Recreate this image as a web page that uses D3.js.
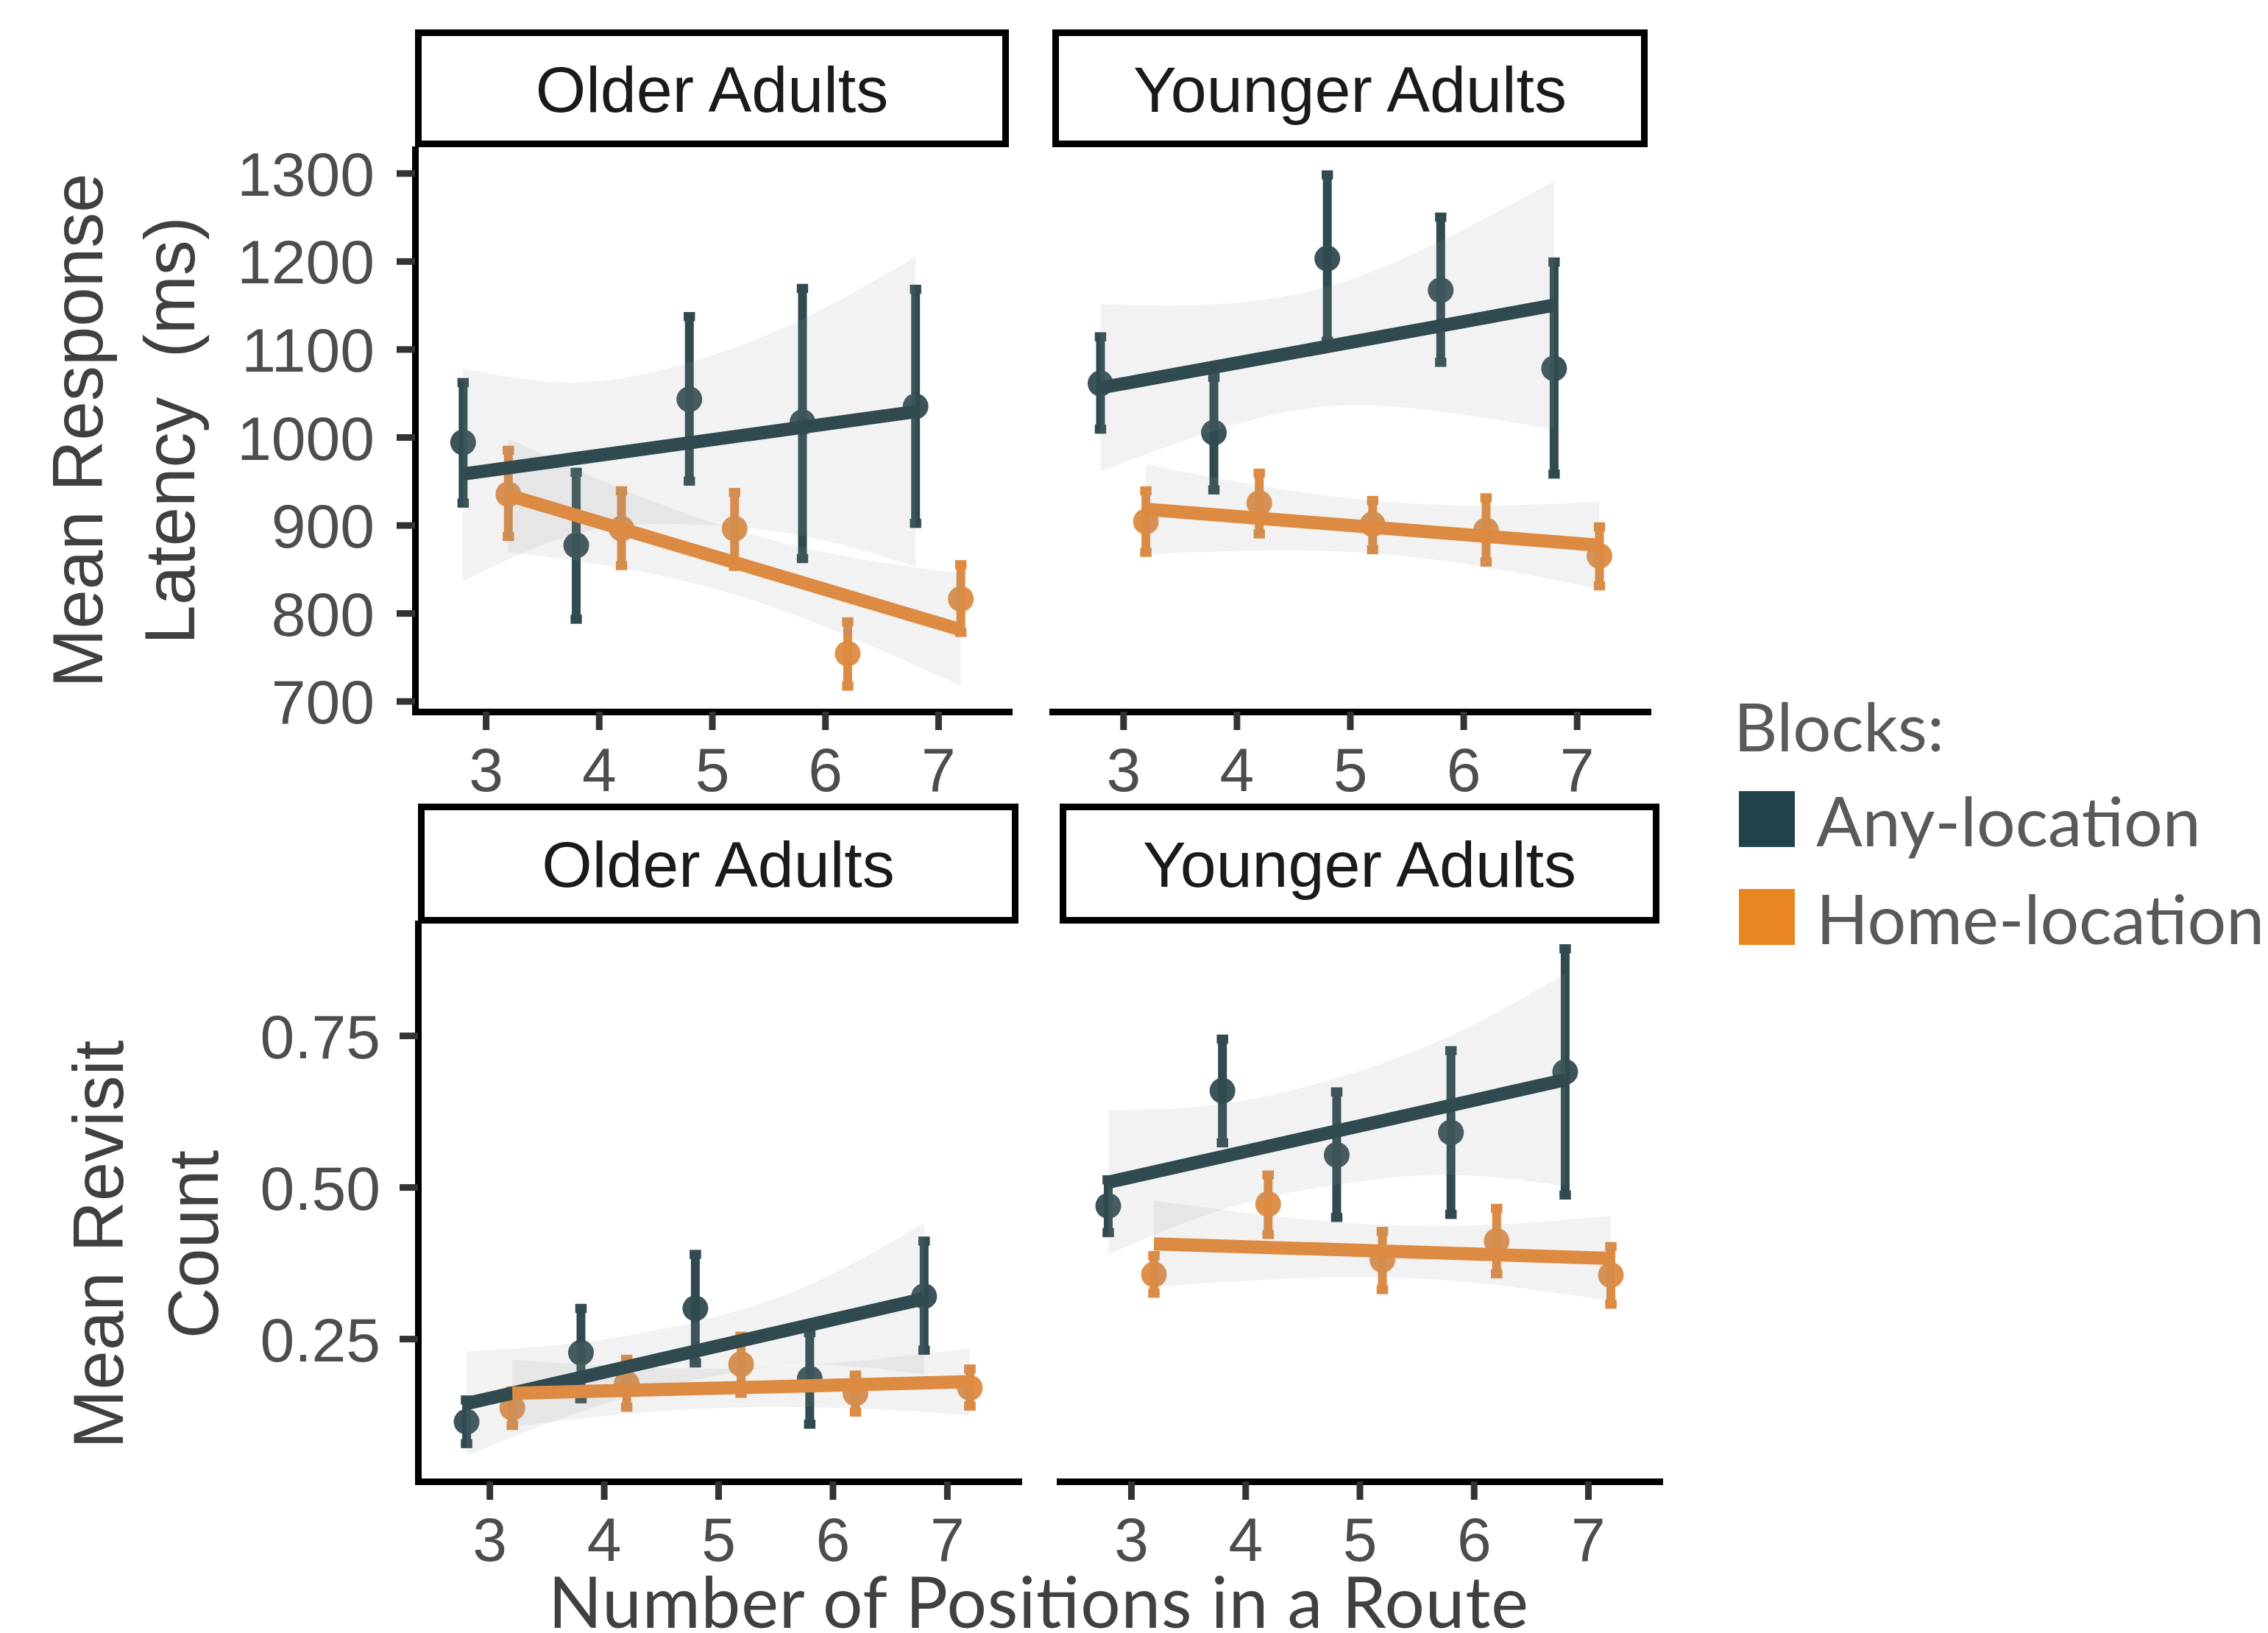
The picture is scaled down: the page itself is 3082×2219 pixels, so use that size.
<!DOCTYPE html>
<html>
<head>
<meta charset="utf-8">
<script src="https://cdn.jsdelivr.net/npm/d3@7"></script>
<style>
  body { margin: 0; background: #ffffff; }
  text.pre { white-space: pre; }
</style>
</head>
<body>
<svg id="chart" width="3082" height="2219"></svg>
<script>
// ---------------- DATA ----------------
const positions = [3, 4, 5, 6, 7];
const blocks = ["Any-location", "Home-location"];
const groups = ["Older Adults", "Younger Adults"];
const latencyTicks = [700, 800, 900, 1000, 1100, 1200, 1300];
const latencyTickLabels = ["700", "800", "900", "1000", "1100", "1200", "1300"];
const revisitTicks = [0.25, 0.50, 0.75];
const revisitTickLabels = ["0.25", "0.50", "0.75"];
const xTitle = "Number of Positions in a Route";
const latencyTitle = ["Mean Response", "Latency  (ms)"];
const revisitTitle = ["Mean Revisit", "Count"];
const legendTitle = "Blocks:";

// Mean Response Latency (ms) - Older Adults
const latOldAnyMean   = [994, 877, 1043, 1017, 1035];
const latOldAnyLo     = [925, 793, 950, 862, 902];
const latOldAnyHi     = [1062, 960, 1137, 1169, 1168];
const latOldAnyFit    = [958, 1029];
const latOldAnyBandHi = [1078, 1062, 1085, 1134, 1205];
const latOldAnyBandLo = [836, 890, 901, 888, 853];

const latOldHomeMean   = [935, 896, 896, 754, 816];
const latOldHomeLo     = [887, 854, 853, 717, 778];
const latOldHomeHi     = [985, 939, 937, 790, 855];
const latOldHomeFit    = [934, 781];
const latOldHomeBandHi = [998, 941, 895, 864, 845];
const latOldHomeBandLo = [870, 851, 821, 774, 717];

// Mean Response Latency (ms) - Younger Adults
const latYoungAnyMean   = [1061, 1005, 1203, 1167, 1078];
const latYoungAnyLo     = [1009, 940, 1109, 1085, 958];
const latYoungAnyHi     = [1114, 1068, 1298, 1250, 1199];
const latYoungAnyFit    = [1056, 1150];
const latYoungAnyBandHi = [1151, 1151, 1171, 1223, 1291];
const latYoungAnyBandLo = [961, 1007, 1035, 1029, 1009];

const latYoungHomeMean   = [904, 925, 901, 894, 865];
const latYoungHomeLo     = [869, 890, 872, 858, 831];
const latYoungHomeHi     = [939, 959, 928, 931, 898];
const latYoungHomeFit    = [918, 877];
const latYoungHomeBandHi = [969, 945, 928, 922, 927];
const latYoungHomeBandLo = [867, 871, 868, 852, 827];

// Mean Revisit Count - Older Adults
const revOldAnyMean   = [0.113, 0.227, 0.300, 0.184, 0.320];
const revOldAnyLo     = [0.077, 0.151, 0.210, 0.109, 0.231];
const revOldAnyHi     = [0.149, 0.300, 0.389, 0.260, 0.411];
const revOldAnyFit    = [0.143, 0.316];
const revOldAnyBandHi = [0.229, 0.244, 0.278, 0.339, 0.441];
const revOldAnyBandLo = [0.057, 0.130, 0.182, 0.207, 0.191];

const revOldHomeMean   = [0.136, 0.176, 0.208, 0.160, 0.169];
const revOldHomeLo     = [0.107, 0.137, 0.160, 0.129, 0.139];
const revOldHomeHi     = [0.164, 0.216, 0.254, 0.190, 0.200];
const revOldHomeFit    = [0.160, 0.179];
const revOldHomeBandHi = [0.215, 0.204, 0.201, 0.213, 0.234];
const revOldHomeBandLo = [0.105, 0.126, 0.137, 0.135, 0.124];

// Mean Revisit Count - Younger Adults
const revYoungAnyMean   = [0.469, 0.659, 0.553, 0.590, 0.690];
const revYoungAnyLo     = [0.425, 0.573, 0.450, 0.455, 0.487];
const revYoungAnyHi     = [0.512, 0.744, 0.657, 0.725, 0.893];
const revYoungAnyFit    = [0.508, 0.677];
const revYoungAnyBandHi = [0.627, 0.637, 0.680, 0.750, 0.852];
const revYoungAnyBandLo = [0.389, 0.463, 0.504, 0.520, 0.502];

const revYoungHomeMean   = [0.356, 0.472, 0.380, 0.411, 0.355];
const revYoungHomeLo     = [0.325, 0.422, 0.331, 0.357, 0.307];
const revYoungHomeHi     = [0.387, 0.520, 0.427, 0.465, 0.402];
const revYoungHomeFit    = [0.4065, 0.3825];
const revYoungHomeBandHi = [0.4775, 0.4535, 0.4375, 0.4385, 0.4525];
const revYoungHomeBandLo = [0.3355, 0.3475, 0.3515, 0.3385, 0.3125];

// ---------------- TABLE BUILT FROM ARRAYS ----------------
function S(mean, lo, hi, fit, bandLo, bandHi) { return { mean, lo, hi, fit, bandLo, bandHi }; }
const series = {
  latency: {
    "Older Adults": {
      "Any-location": S(latOldAnyMean, latOldAnyLo, latOldAnyHi, latOldAnyFit, latOldAnyBandLo, latOldAnyBandHi),
      "Home-location": S(latOldHomeMean, latOldHomeLo, latOldHomeHi, latOldHomeFit, latOldHomeBandLo, latOldHomeBandHi)
    },
    "Younger Adults": {
      "Any-location": S(latYoungAnyMean, latYoungAnyLo, latYoungAnyHi, latYoungAnyFit, latYoungAnyBandLo, latYoungAnyBandHi),
      "Home-location": S(latYoungHomeMean, latYoungHomeLo, latYoungHomeHi, latYoungHomeFit, latYoungHomeBandLo, latYoungHomeBandHi)
    }
  },
  revisit: {
    "Older Adults": {
      "Any-location": S(revOldAnyMean, revOldAnyLo, revOldAnyHi, revOldAnyFit, revOldAnyBandLo, revOldAnyBandHi),
      "Home-location": S(revOldHomeMean, revOldHomeLo, revOldHomeHi, revOldHomeFit, revOldHomeBandLo, revOldHomeBandHi)
    },
    "Younger Adults": {
      "Any-location": S(revYoungAnyMean, revYoungAnyLo, revYoungAnyHi, revYoungAnyFit, revYoungAnyBandLo, revYoungAnyBandHi),
      "Home-location": S(revYoungHomeMean, revYoungHomeLo, revYoungHomeHi, revYoungHomeFit, revYoungHomeBandLo, revYoungHomeBandHi)
    }
  }
};

// ---------------- STYLE / LAYOUT ----------------
const geomColor = { "Any-location": "#304A50", "Home-location": "#DD8B42" };
const legendColor = { "Any-location": "#22434C", "Home-location": "#E8861F" };
const dodge = { "Any-location": -0.2, "Home-location": 0.2 };
const capHalf = 0.05;
const xDomain = [2.375, 7.625];

const rows = [
  { measure: "latency", stripTop: 40, stripBottom: 200, top: 203, bottom: 967,
    cols: [[564, 1371], [1430, 2239]], yDomain: [688, 1327],
    ticks: latencyTicks, tickLabels: latencyTickLabels, labelX: 509,
    title: latencyTitle, titleX: [139, 263.5], titleY: 585 },
  { measure: "revisit", stripTop: 1092, stripBottom: 1255, top: 1255, bottom: 2013,
    cols: [[568, 1384], [1440, 2255]], yDomain: [0.0147, 0.9346],
    ticks: revisitTicks, tickLabels: revisitTickLabels, labelX: 517,
    title: revisitTitle, titleX: [166.5, 296], titleY: 1691 }
];

const svg = d3.select("#chart");
svg.append("rect").attr("width", 3082).attr("height", 2219).attr("fill", "#ffffff");

const tickFont = "'Liberation Sans', Arial, sans-serif";
const titleFont = "Lato, 'Open Sans', sans-serif";

rows.forEach(row => {
  groups.forEach((grp, gi) => {
    const [c0, c1] = row.cols[gi];
    const x = d3.scaleLinear().domain(xDomain).range([c0, c1]);
    const y = d3.scaleLinear().domain(row.yDomain).range([row.bottom, row.top]);
    const g = svg.append("g");

    // strip
    g.append("rect")
      .attr("x", c0 + 4.5).attr("y", row.stripTop + 4.5)
      .attr("width", c1 - c0 - 9).attr("height", row.stripBottom - row.stripTop - 9)
      .attr("fill", "#ffffff").attr("stroke", "#000000").attr("stroke-width", 9);
    g.append("text")
      .attr("x", (c0 + c1) / 2)
      .attr("y", (row.stripTop + row.stripBottom) / 2 + 31.5)
      .attr("text-anchor", "middle")
      .attr("font-family", tickFont).attr("font-size", 88)
      .attr("fill", "#1A1A1A")
      .text(grp);

    // error bars and points
    blocks.forEach(b => {
      const s = series[row.measure][grp][b];
      const off = dodge[b];
      const col = geomColor[b];
      positions.forEach((p, i) => {
        const xc = x(p + off);
        g.append("line")
          .attr("x1", xc).attr("x2", xc)
          .attr("y1", y(s.lo[i])).attr("y2", y(s.hi[i]))
          .attr("stroke", col).attr("stroke-width", 12);
        [s.lo[i], s.hi[i]].forEach(v => {
          g.append("line")
            .attr("x1", x(p + off - capHalf)).attr("x2", x(p + off + capHalf))
            .attr("y1", y(v)).attr("y2", y(v))
            .attr("stroke", col).attr("stroke-width", 12.4);
        });
      });
      g.selectAll(null).data(positions).enter().append("circle")
        .attr("cx", p => x(p + off))
        .attr("cy", (p, i) => y(s.mean[i]))
        .attr("r", 17.5)
        .attr("fill", col).attr("fill-opacity", 0.95);
    });

    // confidence ribbons
    blocks.forEach(b => {
      const s = series[row.measure][grp][b];
      const off = dodge[b];
      const area = d3.area()
        .x(p => x(p + off))
        .y0((p, i) => y(s.bandLo[i]))
        .y1((p, i) => y(s.bandHi[i]))
        .curve(d3.curveNatural);
      g.append("path").datum(positions)
        .attr("d", area)
        .attr("fill", "#999999").attr("fill-opacity", 0.13);
    });

    // fit lines
    blocks.forEach(b => {
      const s = series[row.measure][grp][b];
      const off = dodge[b];
      const ends = [positions[0] + off, positions[positions.length - 1] + off];
      g.append("path")
        .datum(ends)
        .attr("d", d3.line().x(d => x(d)).y((d, i) => y(s.fit[i])))
        .attr("fill", "none")
        .attr("stroke", geomColor[b]).attr("stroke-width", 18);
    });

    // x axis
    const xa = g.append("g")
      .attr("transform", `translate(0,${row.bottom})`)
      .call(d3.axisBottom(x).tickValues(positions).tickFormat(d3.format("d")).tickSize(25).tickSizeOuter(0));
    xa.attr("font-family", tickFont).attr("font-size", 84);
    xa.select(".domain").attr("stroke", "#000000").attr("stroke-width", 9).attr("stroke-linecap", "square");
    xa.selectAll(".tick line").attr("stroke", "#333333").attr("stroke-width", 9);
    xa.selectAll(".tick text").attr("y", 108).attr("dy", null).attr("fill", "#4D4D4D");

    // y axis on the first column only
    if (gi === 0) {
      const ya = g.append("g")
        .attr("transform", `translate(${c0},0)`)
        .call(d3.axisLeft(y).tickValues(row.ticks)
          .tickFormat((d, i) => row.tickLabels[i]).tickSize(25).tickSizeOuter(0));
      ya.attr("font-family", tickFont).attr("font-size", 84);
      ya.select(".domain").attr("stroke", "#000000").attr("stroke-width", 9).attr("stroke-linecap", "square");
      ya.selectAll(".tick line").attr("stroke", "#333333").attr("stroke-width", 9);
      ya.selectAll(".tick text").attr("x", row.labelX - c0).attr("dy", "0.358em").attr("fill", "#4D4D4D");
    }
  });

  // y axis title (two lines)
  row.title.forEach((t, k) => {
    svg.append("text")
      .attr("class", "pre")
      .attr("transform", `translate(${row.titleX[k]},${row.titleY}) rotate(-90)`)
      .attr("text-anchor", "middle")
      .attr("font-family", tickFont).attr("font-size", 96)
      .attr("fill", "#404040")
      .text(t);
  });
});

// x axis title
svg.append("text")
  .attr("x", 1411).attr("y", 2212)
  .attr("text-anchor", "middle")
  .attr("font-family", titleFont).attr("font-size", 96)
  .attr("textLength", 1332).attr("lengthAdjust", "spacing")
  .attr("fill", "#404040")
  .text(xTitle);

// legend
const lg = svg.append("g");
lg.append("text")
  .attr("x", 2356).attr("y", 1021)
  .attr("font-family", titleFont).attr("font-size", 92)
  .attr("fill", "#595959")
  .text(legendTitle);
const legendRowY = d3.scalePoint().domain(blocks).range([1075, 1208]);
blocks.forEach(b => {
  const y0 = legendRowY(b);
  lg.append("rect")
    .attr("x", 2363).attr("y", y0)
    .attr("width", 76).attr("height", 76)
    .attr("fill", legendColor[b]);
  lg.append("text")
    .attr("x", 2468).attr("y", y0 + 75)
    .attr("font-family", titleFont).attr("font-size", 93)
    .attr("fill", "#595959")
    .text(b);
});
</script>
</body>
</html>
